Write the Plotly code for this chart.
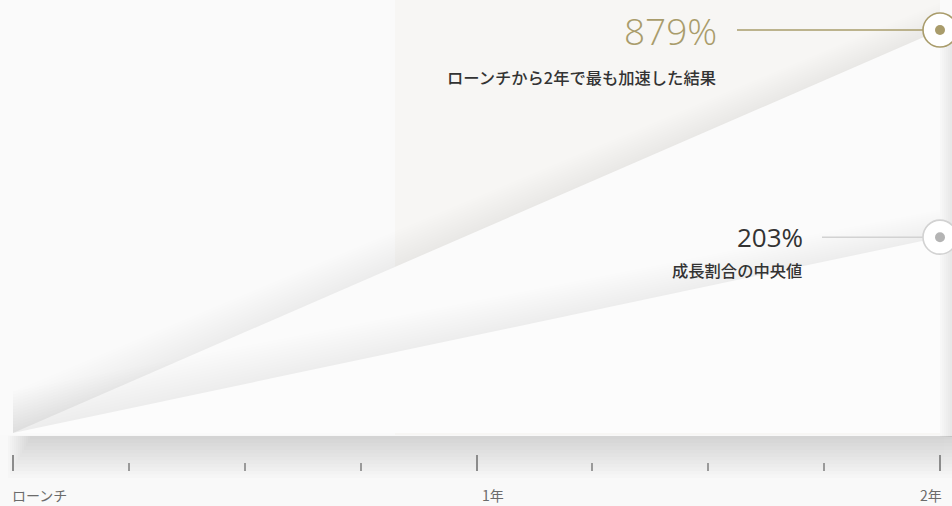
import math
import plotly.graph_objects as go

# ---------------- data ----------------
x_labels = ["ローンチ", "1年", "2年"]
x_major = [0, 1, 2]          # years
x_minor = [0.25, 0.5, 0.75, 1.25, 1.5, 1.75]
series_names = ["ローンチから2年で最も加速した結果", "成長割合の中央値"]
growth_pct = [879, 203]      # growth after 2 years (%)
start_year = 0
end_year = 2

# growth multiple (1 = launch level), plotted on a log axis
mult = [1 + g / 100 for g in growth_pct]

# ---------------- layout geometry (pixels) ----------------
W, H = 952, 506
ML, MR, MT, MB = 8, 8, 0, 35
PW, PH = W - ML - MR, H - MT - MB
X0_PX, X1_PX = 13, 940                   # pixel cols of launch / 2 years
BASE_PX = 433                            # pixel row of launch level
TOP_PX = 30                              # pixel row of the largest value
ppx = (X1_PX - X0_PX) / (end_year - start_year)
x_lo = start_year - (X0_PX - ML) / ppx
x_hi = end_year + (W - MR - X1_PX) / ppx
ppu = (BASE_PX - TOP_PX) / math.log10(max(mult))   # px per log unit
y_lo = -(PH - BASE_PX) / ppu
y_hi = BASE_PX / ppu


def py(p):  # pixel row -> paper fraction
    return (PH - p) / PH


def xp(p):  # pixel col -> paper fraction
    return (p - ML) / PW


def xd(p):  # pixel col -> data x
    return start_year + (p - X0_PX) / ppx


def shift(v, d):  # multiply value so it moves d pixels up on the log axis
    return v * 10 ** (d / ppu)


GOLD = "#a99c6b"
GREY_LINE = "#d2d2d2"
GREY_DOT = "#b4b4b4"

fig = go.Figure()

shapes = []
# panel background
shapes.append(dict(type="rect", xref="paper", yref="paper", x0=-0.05, x1=1.05,
                   y0=py(435), y1=1, fillcolor="#fafafa", line_width=0, layer="below"))
# warm right half
shapes.append(dict(type="rect", xref="paper", yref="paper", x0=xp(395), x1=xp(940),
                   y0=py(435), y1=1, fillcolor="#f7f6f4", line_width=0, layer="below"))
# right edge shadow
for k in range(6):
    shapes.append(dict(type="rect", xref="paper", yref="paper", x0=xp(940 + k * 2), x1=1.05,
                       y0=py(437), y1=py(20), fillcolor="rgba(0,0,0,0.010)", line_width=0,
                       layer="below"))
# bottom shadow under the panel
for k in range(12):
    shapes.append(dict(type="rect", xref="paper", yref="paper", x0=xp(30 - 2 * k), x1=1.05,
                       y0=py(436 + 3.5 * (k + 1)), y1=py(436), fillcolor="rgba(0,0,0,0.011)",
                       line_width=0, layer="below"))

# wedge shadows + wedges
fills = ["#fbfbfb", "#fcfcfc"]
for i, m in enumerate(mult):
    for k in range(1, 15):
        dl, dr = k * 3.0, k * 2.0
        fig.add_trace(go.Scatter(
            x=[start_year, start_year, end_year, end_year],
            y=[1, shift(1, dl), shift(m, dr), 1],
            fill="toself", mode="none", fillcolor="rgba(0,0,0,0.0032)",
            hoverinfo="skip", showlegend=False))
    fig.add_trace(go.Scatter(
        x=[start_year, end_year, end_year, start_year],
        y=[1, m, 1, 1],
        fill="toself", mode="none", fillcolor=fills[i],
        hoverinfo="skip", showlegend=False))

# leader lines
line_start = [xd(737), xd(822)]
line_cols = [GOLD, GREY_LINE]
for i, m in enumerate(mult):
    fig.add_trace(go.Scatter(x=[line_start[i], end_year], y=[m, m], mode="lines",
                             line=dict(color=line_cols[i], width=1.5),
                             hoverinfo="skip", showlegend=False))

# end-point markers
ring_cols = [GOLD, GREY_LINE]
dot_cols = [GOLD, GREY_DOT]
for i, m in enumerate(mult):
    fig.add_trace(go.Scatter(x=[end_year], y=[m], mode="markers", cliponaxis=False,
                             marker=dict(size=34, color="white",
                                         line=dict(color=ring_cols[i], width=1.6)),
                             hoverinfo="skip", showlegend=False))
    fig.add_trace(go.Scatter(x=[end_year], y=[m], mode="markers", cliponaxis=False,
                             marker=dict(size=10, color=dot_cols[i]),
                             hoverinfo="skip", showlegend=False))

ann = []
val_x = [xd(716), xd(802)]
val_size = [37, 26]
val_col = [GOLD, "#333333"]
val_weight = [300, 400]
cap_shift = [-47, -33]
for i, m in enumerate(mult):
    ann.append(dict(x=val_x[i], y=math.log10(m), xref="x", yref="y",
                    text=f"{growth_pct[i]}%", showarrow=False,
                    xanchor="right", yanchor="middle", yshift=0, xshift=3,
                    font=dict(family="Open Sans", size=val_size[i], color=val_col[i],
                              weight=val_weight[i])))
    ann.append(dict(x=val_x[i], y=math.log10(m), xref="x", yref="y",
                    text=series_names[i], showarrow=False,
                    xanchor="right", yanchor="middle", yshift=cap_shift[i], xshift=2,
                    font=dict(family="Noto Sans CJK JP", size=16.3, color="#333333",
                              weight=500)))

# x labels
lab_anchor = ["left", "left", "right"]
lab_shift = [-2, 4, 3]
for i, lab in enumerate(x_labels):
    ann.append(dict(x=x_major[i], y=py(495), xref="x", yref="paper", text=lab,
                    showarrow=False, xanchor=lab_anchor[i], yanchor="middle",
                    xshift=lab_shift[i], borderpad=0,
                    font=dict(family="Noto Sans CJK JP", size=14, color="#6b6b6b")))

fig.update_layout(
    width=W, height=H,
    margin=dict(l=ML, r=MR, t=MT, b=MB),
    paper_bgcolor="#f9f9f9",
    plot_bgcolor="#f8f8f8",
    shapes=shapes,
    annotations=ann,
    showlegend=False,
    xaxis=dict(range=[x_lo, x_hi], showgrid=False, zeroline=False, showline=False,
               tickmode="array", tickvals=x_major, ticks="inside", ticklen=16,
               tickwidth=2, tickcolor="#8c8c8c", showticklabels=False,
               minor=dict(tickmode="array", tickvals=x_minor, ticks="inside", ticklen=8,
                          tickwidth=1.5, tickcolor="#9a9a9a")),
    yaxis=dict(type="log", range=[y_lo, y_hi], visible=False, showgrid=False),
)

fig.write_html("out.html")
